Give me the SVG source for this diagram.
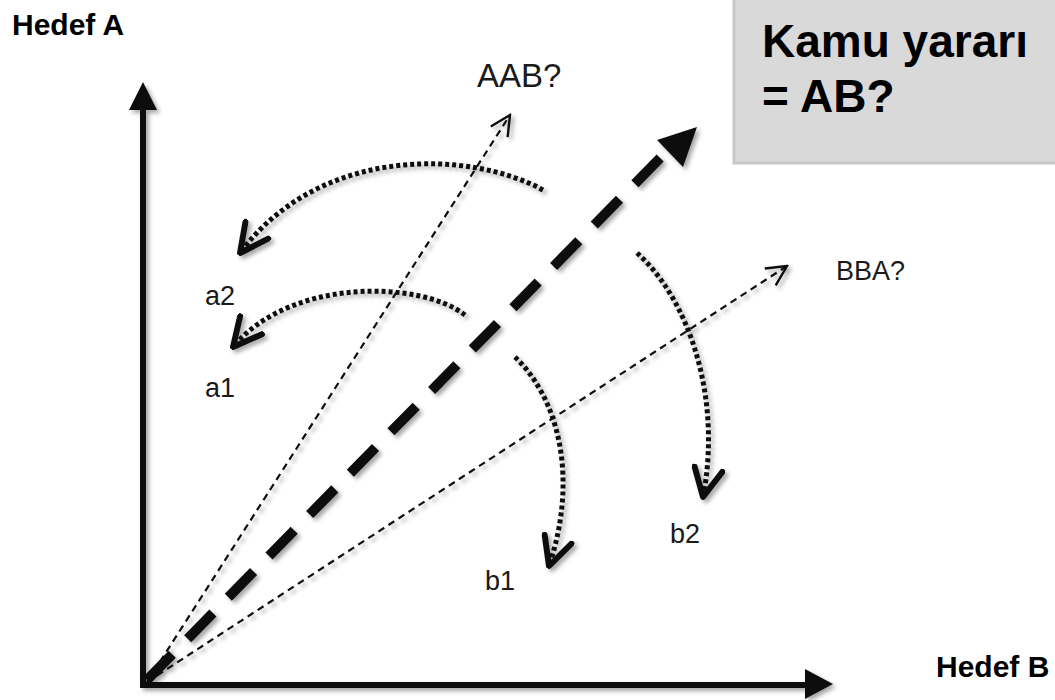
<svg xmlns="http://www.w3.org/2000/svg" width="1055" height="700" viewBox="0 0 1055 700">
<defs>
<style>
.lbl{font-family:"Liberation Sans",Arial,sans-serif;fill:#1a1a1a}
.bold{font-weight:bold;fill:#000}
.axis{stroke:#111;stroke-width:6;fill:none}
.thin{stroke:#111;stroke-width:2.2;stroke-dasharray:7 5;fill:none}
.dot{stroke:#111;stroke-width:5;stroke-dasharray:4 3;fill:none}
.thick{stroke:#111;stroke-width:10;stroke-dasharray:36 22;fill:none}
</style>
<filter id="sh" x="-20%" y="-20%" width="140%" height="140%">
<feDropShadow dx="3" dy="3" stdDeviation="2" flood-color="#000" flood-opacity="0.35"/>
</filter>
<marker id="open" viewBox="0 0 12 12" refX="11" refY="6" markerWidth="24" markerHeight="24" markerUnits="userSpaceOnUse" orient="auto">
<path d="M1,1 L11,6 L1,11" fill="none" stroke="#111" stroke-width="1.2"/>
</marker>
<marker id="chev" viewBox="0 0 12 12" refX="11" refY="6" markerWidth="34" markerHeight="34" markerUnits="userSpaceOnUse" orient="auto">
<path d="M1,1 L11,6 L1,11" fill="none" stroke="#111" stroke-width="2.1" stroke-linecap="round" stroke-linejoin="round"/>
</marker>
</defs>
<rect width="1055" height="700" fill="#fff"/>
<g id="box">
<rect x="734" y="-2" width="330" height="165" fill="#d9d9d9" stroke="#c8c8c8" stroke-width="3"/>
<text class="lbl bold" x="762" y="57" font-size="46">Kamu yararı</text>
<text class="lbl bold" x="762" y="112" font-size="46">= AB?</text>
</g>
<g id="axes" filter="url(#sh)">
<path class="axis" d="M143,688 V106"/>
<polygon points="143,82 129,110 157,110" fill="#111"/>
<path class="axis" d="M140,685 H808"/>
<polygon points="833,684 805,669 805,699" fill="#111"/>
</g>
<g id="connectors" filter="url(#sh)">
<path class="thin" d="M147,682 L510,115" marker-end="url(#open)"/>
<path class="thin" d="M147,682 L787,266" marker-end="url(#open)"/>
<path class="thick" d="M147,680 L668,150"/>
<polygon points="697,127 657,140 683,167" fill="#111"/>
<path class="dot" d="M543,190 C470,150 320,145 240,253" marker-end="url(#chev)"/>
<path class="dot" d="M465,315 C420,280 290,278 233,347" marker-end="url(#chev)"/>
<path class="dot" d="M515,357 C560,400 578,480 549,566" marker-end="url(#chev)"/>
<path class="dot" d="M637,253 C690,300 722,400 703,497" marker-end="url(#chev)"/>
</g>
<g id="labels">
<text class="lbl bold" x="12" y="35" font-size="30">Hedef A</text>
<text class="lbl bold" x="936" y="677" font-size="30">Hedef B</text>
<text class="lbl" x="477" y="87" font-size="33">AAB?</text>
<text class="lbl" x="836" y="280" font-size="27">BBA?</text>
<text class="lbl" x="205" y="305" font-size="27">a2</text>
<text class="lbl" x="205" y="397" font-size="27">a1</text>
<text class="lbl" x="485" y="590" font-size="27">b1</text>
<text class="lbl" x="670" y="543" font-size="27">b2</text>
</g>
</svg>
